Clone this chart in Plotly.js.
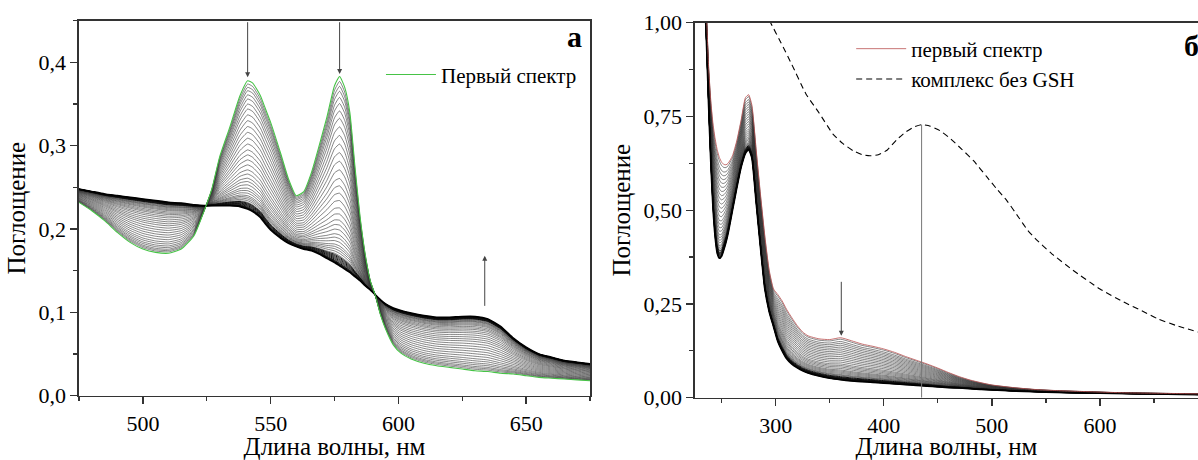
<!DOCTYPE html>
<html><head><meta charset="utf-8">
<script src="https://cdn.plot.ly/plotly-3.0.1.min.js"></script>
<style>html,body{margin:0;padding:0;background:#fff}#chart{width:1198px;height:460px}</style>
</head><body><div id="chart"></div>
<script>
// ---------- panel а ----------
const wlA = [475,480,485,490,495,500,505,510,515,520,524,527,530,534,538,541,543,546,548,550,554,557,560,563,566,569,572,575,577,579,581,583,585,587,589,591,593,595,598,601,605,610,615,620,625,630,635,640,645,650,655,660,665,670,675];
const firstA = [0.232,0.222,0.210,0.196,0.184,0.176,0.172,0.171,0.176,0.192,0.222,0.248,0.286,0.322,0.360,0.378,0.375,0.360,0.344,0.328,0.290,0.260,0.240,0.245,0.268,0.300,0.334,0.372,0.383,0.370,0.340,0.275,0.215,0.170,0.138,0.120,0.097,0.080,0.061,0.051,0.044,0.039,0.036,0.034,0.032,0.030,0.029,0.027,0.026,0.024,0.022,0.021,0.020,0.019,0.018];
const finalA = [0.248,0.245,0.242,0.240,0.238,0.236,0.234,0.232,0.231,0.229,0.228,0.228,0.228,0.228,0.227,0.224,0.221,0.214,0.206,0.199,0.189,0.183,0.179,0.176,0.174,0.170,0.165,0.160,0.156,0.152,0.148,0.143,0.138,0.132,0.127,0.121,0.115,0.110,0.105,0.102,0.099,0.096,0.094,0.094,0.095,0.095,0.092,0.083,0.069,0.058,0.050,0.046,0.042,0.040,0.038];
// absorbance at 541 nm of the successive spectra
const levelsA = [0.374,0.370,0.366,0.361,0.356,0.350,0.344,0.337,0.330,0.323,0.316,0.309,0.302,0.295,0.289,0.283,0.277,0.271,0.266,0.261,0.257,0.253,0.249,0.246,0.243,0.240,0.238,0.236,0.234,0.232,0.231,0.230,0.229,0.228,0.227,0.226,0.2255,0.225,0.2245];

// ---------- panel б ----------
const wlB = [228,232,236,238,240,242,244,246,248,250,252,254,256,260,264,268,272,275,278,282,286,290,294,298,302,306,310,315,320,325,330,340,350,360,370,380,390,400,410,420,430,440,450,460,470,480,490,500,520,540,560,580,600,625,650,675,700];
const firstB = [1.6,1.3,1.02,0.88,0.79,0.73,0.69,0.66,0.64,0.628,0.622,0.621,0.625,0.645,0.685,0.74,0.80,0.808,0.78,0.66,0.54,0.43,0.34,0.29,0.275,0.258,0.236,0.213,0.192,0.175,0.165,0.157,0.155,0.160,0.152,0.143,0.137,0.130,0.121,0.110,0.100,0.090,0.079,0.067,0.056,0.047,0.040,0.034,0.027,0.022,0.019,0.017,0.015,0.013,0.012,0.011,0.010];
const finalB = [1.55,1.25,0.95,0.78,0.63,0.51,0.43,0.385,0.372,0.378,0.395,0.415,0.44,0.50,0.56,0.615,0.652,0.662,0.64,0.52,0.40,0.29,0.23,0.19,0.15,0.125,0.105,0.090,0.080,0.072,0.066,0.058,0.052,0.048,0.045,0.043,0.041,0.039,0.037,0.035,0.033,0.031,0.029,0.027,0.026,0.024,0.022,0.021,0.018,0.016,0.014,0.013,0.012,0.011,0.010,0.009,0.008];
// absorbance at 360 nm of the successive spectra
const levelsB = [0.156,0.150,0.145,0.140,0.135,0.130,0.125,0.120,0.115,0.110,0.105,0.100,0.095,0.090,0.086,0.082,0.078,0.074,0.071,0.068,0.065,0.062,0.060,0.058,0.056,0.054,0.053,0.052,0.051,0.050,0.049,0.048];
// complex without GSH
const wlDash = [290,296,305,315,328,340,353,362,372,380,387,395,403,412,420,428,435,443,452,462,472,483,495,505,514,525,533,540,555,575,600,622,640,653,670,691];
const dashB = [1.03,0.996,0.946,0.888,0.81,0.76,0.703,0.678,0.658,0.648,0.645,0.648,0.66,0.688,0.708,0.722,0.728,0.724,0.712,0.69,0.663,0.632,0.59,0.555,0.525,0.48,0.447,0.425,0.385,0.34,0.29,0.255,0.23,0.211,0.193,0.175];

const namesA = ['Первый спектр'];
const namesB = ['первый спектр','комплекс без GSH'];

function mix(first, fin, idx, level){
  const f = (first[idx]-level)/(first[idx]-fin[idx]);
  return first.map((v,i)=>v+(fin[i]-v)*f);
}
const iA = wlA.indexOf(541), iB = wlB.indexOf(360);
const traces = [];
const lineShape = {shape:'spline', smoothing:0.5};
levelsA.forEach((lv,k)=>{
  traces.push({x:wlA, y:mix(firstA,finalA,iA,lv), xaxis:'x', yaxis:'y', mode:'lines', showlegend:false, hoverinfo:'skip',
    line:Object.assign({color: k>levelsA.length-10 ? '#111' : '#333', width: k>levelsA.length-10 ? 1.0 : 0.6}, lineShape)});
});
traces.push({x:wlA, y:finalA, xaxis:'x', yaxis:'y', mode:'lines', showlegend:false, hoverinfo:'skip', line:Object.assign({color:'#000', width:1.8}, lineShape)});
traces.push({x:wlA, y:firstA, xaxis:'x', yaxis:'y', mode:'lines', name:namesA[0], legend:'legend', line:Object.assign({color:'rgb(70,195,70)', width:1.1}, lineShape)});

levelsB.forEach((lv,k)=>{
  traces.push({x:wlB, y:mix(firstB,finalB,iB,lv), xaxis:'x2', yaxis:'y2', mode:'lines', showlegend:false, hoverinfo:'skip',
    line:Object.assign({color: k>levelsB.length-9 ? '#111' : '#333', width: k>levelsB.length-9 ? 1.0 : 0.6}, lineShape)});
});
traces.push({x:wlB, y:finalB, xaxis:'x2', yaxis:'y2', mode:'lines', showlegend:false, hoverinfo:'skip', line:Object.assign({color:'#000', width:1.8}, lineShape)});
traces.push({x:wlB, y:firstB, xaxis:'x2', yaxis:'y2', mode:'lines', name:namesB[0], legend:'legend2', line:Object.assign({color:'rgb(185,80,80)', width:0.8}, lineShape)});
traces.push({x:wlDash, y:dashB, xaxis:'x2', yaxis:'y2', mode:'lines', name:namesB[1], legend:'legend2', line:Object.assign({color:'#000', width:1.1, dash:'6px,4px'}, lineShape)});
// vertical marker at the maximum of the dashed spectrum
const dMax = Math.max(...dashB.filter((v,i)=>wlDash[i]>380));
const dMaxX = wlDash[dashB.indexOf(dMax)];
traces.push({x:[dMaxX,dMaxX], y:[0,dMax], xaxis:'x2', yaxis:'y2', mode:'lines', showlegend:false, hoverinfo:'skip', line:{color:'#777', width:1}});

const F = 'Liberation Serif';
function axBase(){ return {showgrid:false, zeroline:false, showline:true, linecolor:'#333', linewidth:1.5, mirror:true,
  ticks:'outside', ticklen:7, tickwidth:1.3, tickcolor:'#333', tickfont:{family:F, size:22, color:'#000'}}; }
const arrowStyle = {showarrow:true, text:'', arrowhead:2, arrowsize:1, arrowwidth:1, arrowcolor:'#444', axref:'x', ayref:'y'};
const pkA1 = wlA[firstA.indexOf(Math.max(...firstA.slice(0,20)))];
const pkA2 = 577;
const layout = {
  width:1198, height:460, margin:{l:0,r:0,t:0,b:0}, paper_bgcolor:'#fff', plot_bgcolor:'#fff',
  separators:', ', font:{family:F, size:22, color:'#000'},
  xaxis:Object.assign(axBase(), {domain:[0.06594,0.49249], range:[475,675], dtick:50, tick0:0,
    minor:{dtick:25, tick0:0, ticks:'outside', ticklen:4, tickcolor:'#333'},
    title:{text:'Длина волны, нм', font:{family:F,size:25,color:'#000'}, standoff:5}, anchor:'y'}),
  yaxis:Object.assign(axBase(), {domain:[0.1398,0.955], range:[0,0.45], dtick:0.1, tickformat:'.1f',
    minor:{dtick:0.05, ticks:'outside', ticklen:4, tickcolor:'#333'},
    title:{text:'Поглощение', font:{family:F,size:25,color:'#000'}, standoff:6}, anchor:'x'}),
  xaxis2:Object.assign(axBase(), {domain:[0.58013,1], range:[225.35,690.7], dtick:100, tick0:0,
    minor:{dtick:50, tick0:0, ticks:'outside', ticklen:4, tickcolor:'#333'},
    title:{text:'Длина волны, нм', font:{family:F,size:25,color:'#000'}, standoff:5}, anchor:'y2'}),
  yaxis2:Object.assign(axBase(), {domain:[0.1354,0.9507], range:[0,1], dtick:0.25, tickformat:'.2f', mirror:false,
    minor:{dtick:0.125, ticks:'outside', ticklen:4, tickcolor:'#333'},
    title:{text:'Поглощение', font:{family:F,size:25,color:'#000'}, standoff:6}, anchor:'x2'}),
  legend:{x:0.318, y:0.882, xanchor:'left', yanchor:'top', bgcolor:'rgba(0,0,0,0)', font:{family:F,size:21,color:'#000'}, itemwidth:50},
  legend2:{x:0.7105, y:0.938, xanchor:'left', yanchor:'top', bgcolor:'rgba(0,0,0,0)', font:{family:F,size:21,color:'#000'}, itemwidth:50},
  annotations:[
    Object.assign({}, arrowStyle, {xref:'x', yref:'y', x:pkA1, y:0.382, ax:pkA1, ay:0.45}),
    Object.assign({}, arrowStyle, {xref:'x', yref:'y', x:pkA2, y:0.386, ax:pkA2, ay:0.45}),
    Object.assign({}, arrowStyle, {xref:'x', yref:'y', x:633.8, y:0.168, ax:633.8, ay:0.106}),
    Object.assign({}, arrowStyle, {xref:'x2', yref:'y2', x:360.7, y:0.165, ax:360.7, ay:0.313, axref:'x2', ayref:'y2'}),
    {xref:'paper', yref:'paper', x:574/1198, y:(460-37)/460, text:'<b>а</b>', showarrow:false, font:{family:F,size:30,color:'#000'}, xanchor:'center', yanchor:'middle'},
    {xref:'paper', yref:'paper', x:1191/1198, y:(460-46)/460, text:'<b>б</b>', showarrow:false, font:{family:F,size:30,color:'#000'}, xanchor:'center', yanchor:'middle'}
  ]
};
Plotly.newPlot('chart', traces, layout, {staticPlot:true, displayModeBar:false});
</script></body></html>
